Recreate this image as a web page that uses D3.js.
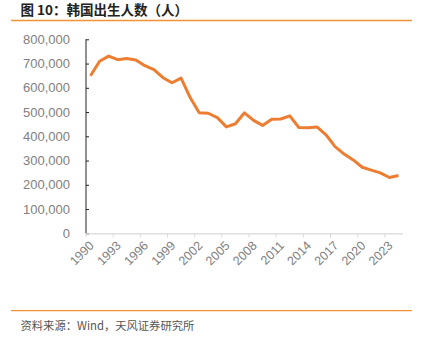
<!DOCTYPE html>
<html><head><meta charset="utf-8">
<script src="https://cdn.jsdelivr.net/npm/d3@7"></script>
<style>body{margin:0;background:#fff}svg{display:block}</style>
</head><body>
<script>
const years = d3.range(1990, 2025).map(String);
const births = [649738,709275,730678,715826,721185,715020,691226,675394,641594,620668,
  640089,559934,496911,495036,476958,438707,451759,496822,465892,444849,
  470171,471265,484550,436455,435435,438420,406243,357771,326822,302676,
  272337,260562,249186,230028,238300];
const yTicks = [0,100000,200000,300000,400000,500000,600000,700000,800000];
const xLabelYears = years.filter((d,i)=>i%3===0);
const titleText = "图 10：韩国出生人数（人）";
const sourceText = "资料来源：Wind，天风证券研究所";

const W=425,H=346;
const svg=d3.select("body").append("svg").attr("width",W).attr("height",H);
const m={l:86,r:403,t:39.3,b:233.3};
const x=d3.scaleBand().domain(years).range([m.l,m.r]);
const y=d3.scaleLinear().domain([0,800000]).range([m.b,m.t]);

// header
svg.append("text").attr("x",20.5).attr("y",15).text(titleText)
  .attr("font-family","'Noto Sans CJK SC'").attr("font-weight","bold").attr("font-size",13.5).attr("fill","#222");
svg.append("line").attr("x1",11).attr("x2",412).attr("y1",20.5).attr("y2",20.5).attr("stroke","#F39235").attr("stroke-width",1.3);
svg.append("line").attr("x1",11).attr("x2",412).attr("y1",310.7).attr("y2",310.7).attr("stroke","#F39235").attr("stroke-width",1.3);
svg.append("text").attr("x",20.5).attr("y",330).text(sourceText)
  .attr("font-family","'Noto Sans CJK SC'").attr("font-size",11.3).attr("fill","#555");

// y axis
const ya=svg.append("g").attr("transform",`translate(${m.l},0)`)
  .call(d3.axisRight(y).tickValues(yTicks).tickSize(3).tickFormat(()=>""));
ya.selectAll("path,line").attr("stroke","#222").attr("stroke-width",1);
ya.select(".domain").attr("d",`M0,${m.t}V${m.b}`);
svg.append("g").selectAll("text").data(yTicks).join("text")
  .attr("x",70).attr("y",d=>y(d)).attr("dy","0.35em").attr("text-anchor","end")
  .attr("font-family","'Liberation Sans'").attr("font-size",13).attr("fill","#808080")
  .text(d3.format(","));

// x axis
const tickYears = years.filter((d,i)=>i%3===0);
const xa=svg.append("g");
xa.append("line").attr("x1",m.l).attr("x2",m.r).attr("y1",m.b+0.5).attr("y2",m.b+0.5).attr("stroke","#d9d9d9").attr("stroke-width",1.2);
xa.selectAll("line.t").data(tickYears).join("line").attr("class","t")
  .attr("x1",d=>x(d)).attr("x2",d=>x(d)).attr("y1",m.b).attr("y2",m.b+4).attr("stroke","#d9d9d9");
xa.selectAll("text").data(xLabelYears).join("text")
  .attr("transform",d=>`translate(${x(d)+x.bandwidth()/2+1},${m.b+10}) rotate(-45)`)
  .attr("text-anchor","end").attr("dy","0.35em")
  .attr("font-family","'Liberation Sans'").attr("font-size",12.5).attr("fill","#808080").text(d=>d);

// line
const line=d3.line().x((d,i)=>x(years[i])+x.bandwidth()/2).y(d=>y(d));
svg.append("path").datum(births).attr("d",line).attr("fill","none")
  .attr("stroke","#ED7D31").attr("stroke-width",3).attr("stroke-linejoin","round");
</script>
</body></html>
